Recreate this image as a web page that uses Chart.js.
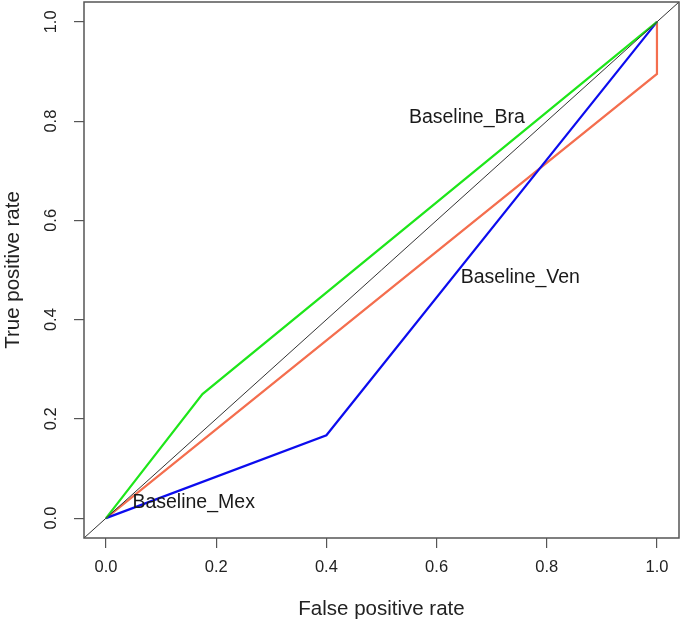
<!DOCTYPE html>
<html>
<head>
<meta charset="utf-8">
<script src="https://cdn.jsdelivr.net/npm/chart.js@4/dist/chart.umd.min.js"></script>
<style>
  html, body { margin: 0; padding: 0; background: #fff; }
  #wrap { width: 683px; height: 622px; }
</style>
</head>
<body>
<div id="wrap"><canvas id="roc"></canvas></div>
<script>
// ROC curves
const braFpr = [0, 0.175, 1];
const braTpr = [0, 0.25, 1];
const venFpr = [0, 1, 1];
const venTpr = [0, 0.895, 1];
const mexFpr = [0, 0.4, 1];
const mexTpr = [0, 0.167, 1];
const refLine = [-0.04, 1.04];
const tickValues = [0, 0.2, 0.4, 0.6, 0.8, 1.0];

const labelNames = ['Baseline_Bra', 'Baseline_Ven', 'Baseline_Mex'];
const labelX = [0.655, 0.752, 0.159];
const labelY = [0.808, 0.485, 0.032];

const fontFam = "'Liberation Sans', Arial, Helvetica, sans-serif";

function pts(xs, ys) {
    return xs.map((x, i) => ({ x: x, y: ys[i] }));
}

const boxPlugin = {
    id: 'box',
    afterDatasetsDraw(chart) {
        const ctx = chart.ctx;
        const a = chart.chartArea;
        const xs = chart.scales.x, ys = chart.scales.y;
        ctx.save();
        ctx.font = '19.5px ' + fontFam;
        ctx.fillStyle = '#1a1a1a';
        ctx.textAlign = 'center';
        ctx.textBaseline = 'middle';
        labelNames.forEach((name, i) => {
            ctx.fillText(name, xs.getPixelForValue(labelX[i]), ys.getPixelForValue(labelY[i]));
        });
        ctx.strokeStyle = '#555';
        ctx.lineWidth = 1.5;
        ctx.strokeRect(a.left, a.top, a.right - a.left, a.bottom - a.top);
        ctx.restore();
    }
};

const axisCommon = {
    type: 'linear',
    min: -0.04,
    max: 1.04,
    afterBuildTicks(scale) {
        scale.ticks = tickValues.map(v => ({ value: v }));
    },
    grid: {
        drawOnChartArea: false,
        drawTicks: true,
        tickLength: 10,
        color: '#555',
        lineWidth: 1.2
    },
    border: { display: false }
};

new Chart(document.getElementById('roc'), {
    type: 'scatter',
    data: {
        datasets: [
            { data: pts(refLine, refLine), borderColor: '#333333', borderWidth: 1, order: 0 },
            { data: pts(braFpr, braTpr), borderColor: '#1ee61a', borderWidth: 2.2, order: 1 },
            { data: pts(venFpr, venTpr), borderColor: '#f46e4e', borderWidth: 2.2, order: 3 },
            { data: pts(mexFpr, mexTpr), borderColor: '#0c0cee', borderWidth: 2.2, order: 2 }
        ].map(d => Object.assign(d, { showLine: true, pointRadius: 0, fill: false, tension: 0 }))
    },
    options: {
        responsive: true,
        maintainAspectRatio: false,
        animation: false,
        layout: { padding: { top: 2, right: 4, left: 0, bottom: 0 } },
        plugins: {
            legend: { display: false },
            tooltip: { enabled: false }
        },
        scales: {
            x: Object.assign({}, axisCommon, {
                position: 'bottom',
                afterFit(scale) {
                    scale.height = 84;
                    scale.paddingLeft = 0;
                    scale.paddingRight = 0;
                },
                ticks: {
                    padding: 10,
                    color: '#222',
                    font: { family: fontFam, size: 16.5 },
                    maxRotation: 0,
                    callback: v => v.toFixed(1)
                },
                title: {
                    display: true,
                    text: 'False positive rate',
                    color: '#222',
                    font: { family: fontFam, size: 20.5 },
                    padding: { top: 0, bottom: 0 }
                }
            }),
            y: Object.assign({}, axisCommon, {
                position: 'left',
                afterFit(scale) {
                    scale.width = 84;
                    scale.paddingTop = 0;
                    scale.paddingBottom = 0;
                },
                ticks: {
                    padding: 11,
                    color: '#222',
                    font: { family: fontFam, size: 16.5 },
                    minRotation: 90,
                    maxRotation: 90,
                    crossAlign: 'center',
                    callback: v => v.toFixed(1)
                },
                title: {
                    display: true,
                    text: 'True positive rate',
                    color: '#222',
                    font: { family: fontFam, size: 20.5 },
                    padding: { top: 1, bottom: 0 }
                }
            })
        }
    },
    plugins: [boxPlugin]
});
</script>
</body>
</html>
